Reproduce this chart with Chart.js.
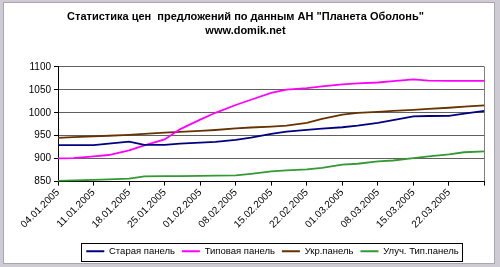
<!DOCTYPE html>
<html>
<head>
<meta charset="utf-8">
<script src="https://cdn.jsdelivr.net/npm/chart.js@4/dist/chart.umd.min.js"></script>
<style>
    html, body { margin: 0; padding: 0; background: #cfcbd4; }
    #frame {
        position: absolute; left: 3px; top: 2px; width: 490px; height: 260px;
        background: #fff; border: 1px solid #a9a5b2;
    }
    #chart { display: block; }
</style>
</head>
<body>
<div id="frame"><canvas id="chart" width="490" height="260"></canvas></div>
<script>
// dates of the observations
const dates = ['04.01.2005', '07.01.2005', '11.01.2005', '14.01.2005', '18.01.2005', '21.01.2005',
    '25.01.2005', '28.01.2005', '01.02.2005', '04.02.2005', '08.02.2005', '11.02.2005',
    '15.02.2005', '18.02.2005', '22.02.2005', '25.02.2005', '01.03.2005', '04.03.2005',
    '08.03.2005', '11.03.2005', '15.03.2005', '18.03.2005', '22.03.2005', '25.03.2005', '29.03.2005'];

const oldPanel = [929.5, 929.5, 929.5, 933, 937, 930, 930, 933, 935, 936.5, 941, 946,
    954, 959, 963, 965.5, 968.5, 972, 978, 984, 992, 993, 993.5, 998, 1004];
const typicalPanel = [900.7, 901, 905, 908, 918, 929, 942, 964, 985, 1000, 1017, 1028.5,
    1043.5, 1050.5, 1053.6, 1057.5, 1062, 1064, 1066, 1069, 1073, 1070, 1069.6, 1069.6, 1069.6];
const ukrPanel = [945.5, 947, 948.5, 950, 952, 954, 957, 958.5, 960.5, 962.5, 966, 968,
    970, 972, 978, 987, 996, 1000, 1002, 1004, 1006.5, 1008.5, 1011, 1013.5, 1016];
const improvedPanel = [851.4, 852.5, 854, 855, 856.5, 861.5, 862, 862, 862.5, 863, 863.5, 867,
    872.5, 874.5, 876.5, 880, 887, 889, 894, 896, 901, 905, 909.5, 914, 916];

// weekly tick labels (last tick at 29.03 has no label)
const tickLabels = ['04.01.2005', '11.01.2005', '18.01.2005', '25.01.2005', '01.02.2005', '08.02.2005',
    '15.02.2005', '22.02.2005', '01.03.2005', '08.03.2005', '15.03.2005', '22.03.2005'];
const yTicks = [850, 900, 950, 1000, 1050, 1100];

function dayOf(s) {
    const p = s.split('.');
    return (Date.UTC(+p[2], +p[1] - 1, +p[0]) - Date.UTC(2005, 0, 4)) / 86400000;
}
const days = dates.map(dayOf);
const lastDay = days[days.length - 1];

function series(label, values, color) {
    return {
        label: label,
        data: values.map((v, i) => ({ x: days[i], y: v })),
        borderColor: color,
        backgroundColor: color,
        borderWidth: 1.8,
        pointRadius: 0,
        tension: 0,
        fill: false
    };
}

Chart.defaults.font.family = '"Liberation Sans", Arial, sans-serif';
Chart.defaults.color = '#000';

// legend sits a bit right of centre and lower, and has a frame in the original
const legendBorder = {
    id: 'legendBorder',
    afterUpdate(chart) {
        const lg = chart.legend;
        lg.left += 27;
        lg.right += 27;
        lg.top += 3;
        lg.bottom += 3;
    },
    afterDraw(chart) {
        const lg = chart.legend;
        if (!lg.lineWidths) return;
        const w = lg.lineWidths[0];
        const cx = (lg.left + lg.right) / 2;
        const cy = (lg.top + lg.bottom) / 2;
        const ctx = chart.ctx;
        ctx.save();
        ctx.strokeStyle = '#000';
        ctx.lineWidth = 1;
        ctx.strokeRect(Math.round(cx - w / 2 - 2) + 0.5, Math.round(cy - 10) + 0.5, Math.round(w + 2), 18);
        ctx.restore();
    }
};

new Chart(document.getElementById('chart').getContext('2d'), {
    type: 'line',
    data: {
        datasets: [
            series('Старая панель', oldPanel, '#000080'),
            series('Типовая панель', typicalPanel, '#ff00ff'),
            series('Укр.панель', ukrPanel, '#663300'),
            series('Улуч. Тип.панель', improvedPanel, '#339933')
        ]
    },
    options: {
        responsive: false,
        animation: false,
        layout: { padding: { left: 0, right: 7, top: 0, bottom: 0 } },
        plugins: {
            title: {
                display: true,
                text: ['Статистика цен  предложений по данным АН "Планета Оболонь"', 'www.domik.net'],
                font: { size: 11, weight: 'bold', lineHeight: 1.36 },
                padding: { top: 6, bottom: 28 }
            },
            legend: {
                position: 'bottom',
                labels: {
                    boxWidth: 18,
                    boxHeight: 2,
                    padding: 7,
                    font: { size: 9.5 },
                    generateLabels(chart) {
                        return Chart.defaults.plugins.legend.labels.generateLabels(chart)
                            .map(item => Object.assign(item, { lineWidth: 0 }));
                    }
                }
            },
            tooltip: { enabled: false }
        },
        scales: {
            x: {
                type: 'linear',
                min: 0,
                max: lastDay,
                afterBuildTicks(scale) {
                    scale.ticks = tickLabels.map((_, i) => ({ value: i * 7 })).concat([{ value: lastDay }]);
                },
                afterFit(scale) { scale.height += 5; },
                ticks: {
                    minRotation: 45,
                    maxRotation: 45,
                    autoSkip: false,
                    font: { size: 10 },
                    padding: 1,
                    callback: v => tickLabels[v / 7] || ''
                },
                grid: {
                    drawOnChartArea: true,
                    color: c => (c.tick && c.tick.value === lastDay) ? '#808080' : 'rgba(0,0,0,0)',
                    tickColor: '#000',
                    tickLength: 4
                },
                border: { color: '#000', width: 1 }
            },
            y: {
                min: 850,
                max: 1100,
                afterBuildTicks(scale) {
                    scale.ticks = yTicks.map(v => ({ value: v }));
                },
                afterFit(scale) { scale.width = 54; },
                ticks: { font: { size: 10 }, padding: 3, callback: v => String(v) },
                grid: { color: '#606060', tickColor: '#000', tickLength: 4 },
                border: { color: '#000', width: 1 }
            }
        }
    },
    plugins: [legendBorder]
});
</script>
</body>
</html>
